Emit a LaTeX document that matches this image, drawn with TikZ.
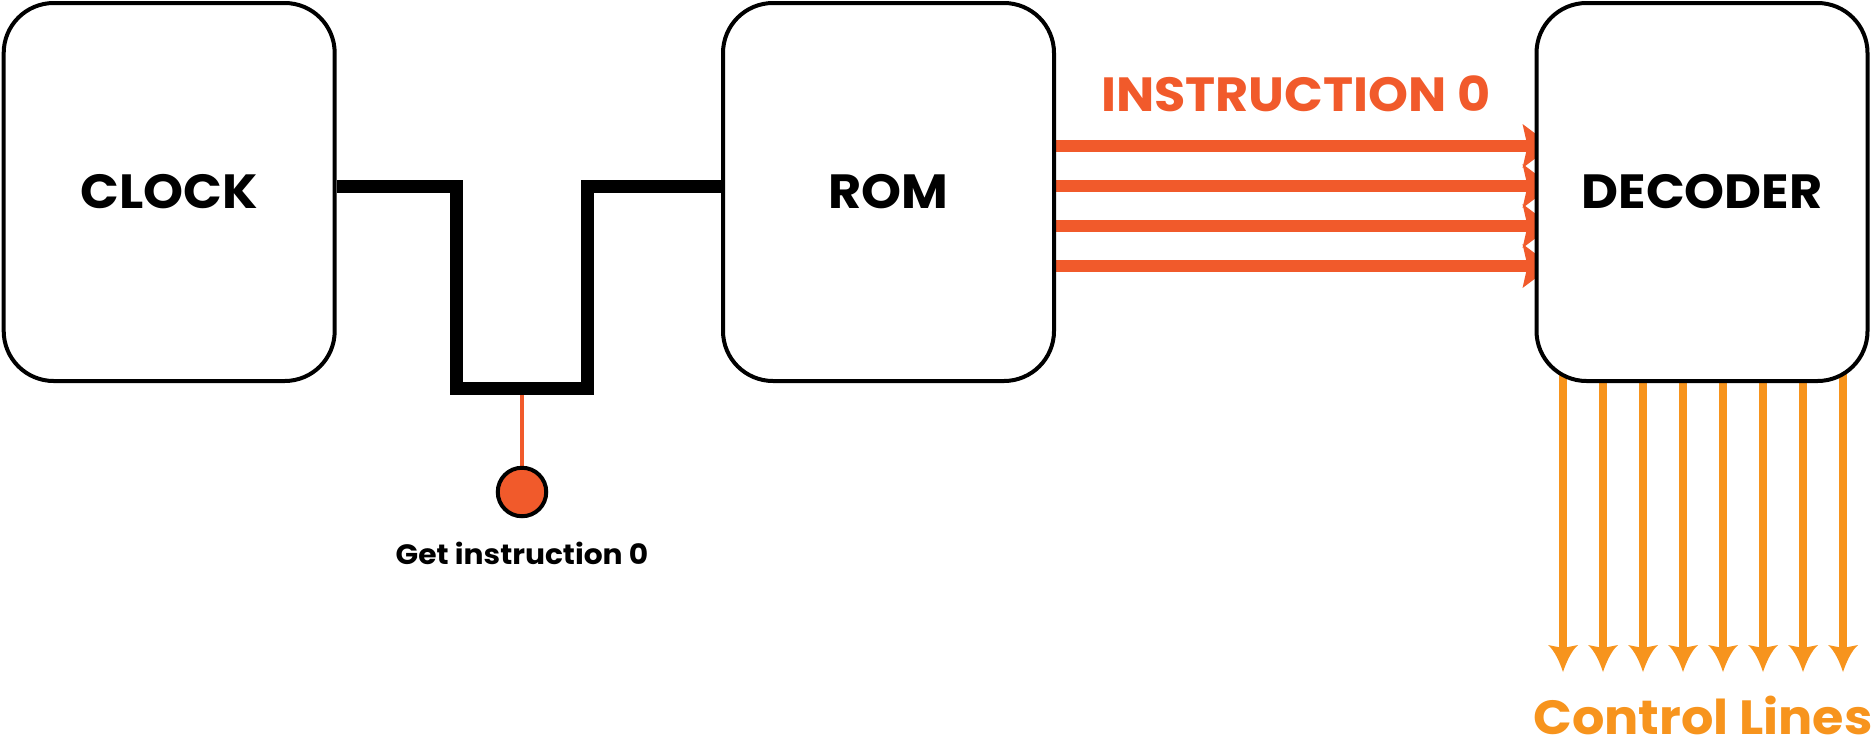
\documentclass[tikz,border=0pt]{standalone}
\usepackage{fontspec}
\setmainfont{Poppins}[FakeStretch=1.06]
\usetikzlibrary{arrows.meta,backgrounds}
\definecolor{ored}{HTML}{F15A2B}
\definecolor{oyel}{HTML}{F7941D}

\pgfdeclarearrow{
  name=CBarb,
  setup code={
    \pgfarrowssettipend{0pt}
    \pgfarrowssetlineend{-22pt}
    \pgfarrowssetbackend{-27pt}
    \pgfarrowsupperhullpoint{0pt}{0pt}
    \pgfarrowsupperhullpoint{-27pt}{15pt}
  },
  drawing code={
    \pgfpathmoveto{\pgfpointorigin}
    \pgfpathcurveto{\pgfpoint{-9pt}{3pt}}{\pgfpoint{-21pt}{8pt}}{\pgfpoint{-27pt}{15pt}}
    \pgfpathlineto{\pgfpoint{-24pt}{0pt}}
    \pgfpathlineto{\pgfpoint{-27pt}{-15pt}}
    \pgfpathcurveto{\pgfpoint{-21pt}{-8pt}}{\pgfpoint{-9pt}{-3pt}}{\pgfpointorigin}
    \pgfpathclose
    \pgfusepathqfill
  }
}
\pgfdeclarearrow{
  name=HBarb,
  setup code={
    \pgfarrowssettipend{0pt}
    \pgfarrowssetlineend{-27pt}
    \pgfarrowssetbackend{-32pt}
    \pgfarrowsupperhullpoint{0pt}{0pt}
    \pgfarrowsupperhullpoint{-32pt}{22pt}
  },
  drawing code={
    \pgfpathmoveto{\pgfpointorigin}
    \pgfpathcurveto{\pgfpoint{-8pt}{4.5pt}}{\pgfpoint{-17pt}{11pt}}{\pgfpoint{-22pt}{14.5pt}}
    \pgfpathlineto{\pgfpoint{-32pt}{22pt}}
    \pgfpathlineto{\pgfpoint{-27pt}{0pt}}
    \pgfpathlineto{\pgfpoint{-32pt}{-22pt}}
    \pgfpathlineto{\pgfpoint{-22pt}{-14.5pt}}
    \pgfpathcurveto{\pgfpoint{-17pt}{-11pt}}{\pgfpoint{-8pt}{-4.5pt}}{\pgfpointorigin}
    \pgfpathclose
    \pgfusepathqfill
  }
}

\begin{document}
\begin{tikzpicture}[x=1pt,y=-1pt,
  box/.style={draw=black,line width=4pt,rounded corners=50pt,fill=white,
    minimum width=331pt,minimum height=378pt,inner sep=0pt,
    font=\bfseries\fontsize{48}{48}\selectfont},
  wave/.style={draw=black,line width=13pt,line join=miter},
  stem/.style={draw=ored,line width=4pt},
  dotstyle/.style={circle,fill=ored,draw=black,line width=4pt,minimum size=48.5pt,inner sep=0pt},
  harrow/.style={draw=ored,line width=11.5pt,-{HBarb},shorten >=-20pt},
  carrow/.style={draw=oyel,line width=8pt,-{CBarb}},
  biglabel/.style={font=\bfseries\fontsize{48}{48}\selectfont,inner sep=0pt},
  smalllabel/.style={font=\bfseries\fontsize{28}{28}\selectfont,inner sep=0pt}
]
\useasboundingbox (0,0) rectangle (1873,748);

\node[box] (clock) at (169.2,192) {CLOCK};
\node[box] (rom) at (888.5,192) {ROM};
\node[box] (dec) at (1702,192) {DECODER};

\coordinate (w1) at (456,186);
\coordinate (w2) at (456,388);
\coordinate (w3) at (587,388);
\coordinate (w4) at (587,186);
\draw[wave] (clock.east |- w1) -- (w1) -- (w2) -- (w3) -- (w4) -- (rom.west |- w4);

\node[dotstyle] (dot) at (522,492) {};
\node[smalllabel] (getl) at (522,553) {Get instruction 0};

\node[biglabel,text=ored] (ilabel) at (1296,94) {INSTRUCTION 0};
\node[biglabel,text=oyel] (clabel) at (1703,715.5) {Control Lines};

\coordinate (cl) at (0,672);

\begin{scope}[on background layer]
  \draw[stem] (dot.north) -- (dot.north |- w2);
  \foreach \y in {146,186,226,266}
    \draw[harrow] (rom.east |- 0,\y) -- (dec.west |- 0,\y);
  \foreach \x in {1563,1603,1643,1683,1723,1763,1803,1843}
    \draw[carrow] (dec.center -| \x,0) -- (cl -| \x,0);
\end{scope}
\end{tikzpicture}
\end{document}
